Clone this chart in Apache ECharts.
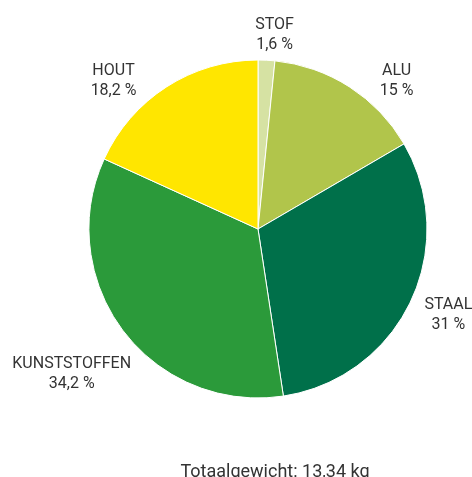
<!DOCTYPE html>
<html>
<head>
<meta charset="utf-8">
<script src="https://cdn.jsdelivr.net/npm/echarts@6/dist/echarts.min.js"></script>
<style>
html,body{margin:0;padding:0;background:#fff;}
#chart{width:472px;height:477px;}
</style>
</head>
<body>
<div id="chart"></div>
<script>
// materialen
var categories=['STOF','ALU','STAAL','KUNSTSTOFFEN','HOUT'];
var values=[1.6,15,31,34.2,18.2];
var labels=['1,6 %','15 %','31 %','34,2 %','18,2 %'];
var colors=['#d6e2a3','#b1c54b','#00704a','#2b9a3a','#ffe600'];
// label plaatsing (graden t.o.v. midden sector, afstand)
var labelTurn=[2,10.3,-1.2,-0.8,-11.5];
var labelDist=[195,203,209,236,207];

var cx=258,cy=229;
var total=values.reduce(function(a,b){return a+b;},0);
var midAngles=[],acc=0;
for(var i=0;i<values.length;i++){
	midAngles.push((acc+values[i]/2)/total*360);
	acc+=values[i];
}

var data=categories.map(function(name,i){
	return {name:name,value:values[i],itemStyle:{color:colors[i]}};
});

var mychart=echarts.init(document.getElementById('chart'));
mychart.setOption({
	animation:false,
	title:{
		text:'Totaalgewicht: 13,34 kg',
		left:270,
		top:458,
		textAlign:'center',
		textStyle:{fontFamily:'Roboto',fontSize:18,fontWeight:'normal',color:'#333'}
	},
	series:[{
		type:'pie',
		center:[cx,cy],
		radius:169,
		startAngle:90,
		clockwise:true,
		itemStyle:{borderColor:'#fff',borderWidth:1},
		label:{
			show:true,
			position:'outside',
			overflow:'none',
			edgeDistance:0,
			formatter:function(p){return p.name+'\n'+labels[p.dataIndex];},
			fontFamily:'Roboto',
			fontSize:16,
			lineHeight:20,
			color:'#333',
			align:'center'
		},
		labelLine:{show:false},
		labelLayout:function(p){
			var i=p.dataIndex;
			var a=(midAngles[i]+labelTurn[i])*Math.PI/180;
			return {
				x:cx+labelDist[i]*Math.sin(a),
				y:cy-labelDist[i]*Math.cos(a),
				align:'center',
				verticalAlign:'middle'
			};
		},
		data:data
	}]
});
</script>
</body>
</html>
